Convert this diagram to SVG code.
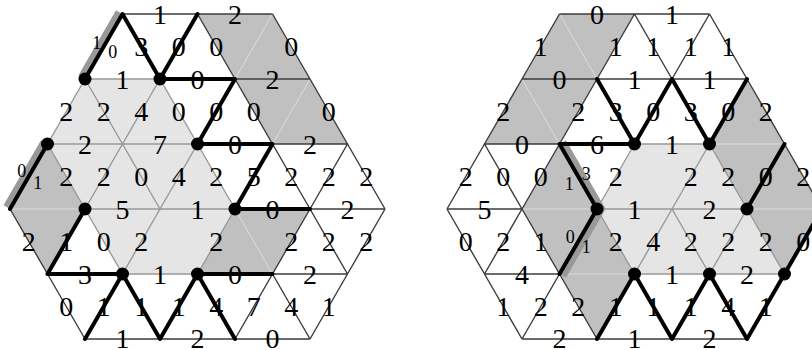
<svg xmlns="http://www.w3.org/2000/svg" width="812" height="350" viewBox="0 0 812 350">
<style>
.fl{fill:#e5e5e5}
.fd{fill:#c0c0c0}
.ld{stroke:#3c3c3c;stroke-width:1.4;fill:none}
.lg{stroke:#999;stroke-width:1.4;fill:none}
.lf{stroke:#dcdcdc;stroke-width:1;fill:none}
.th{stroke:#000;stroke-width:4;stroke-linecap:round;stroke-linejoin:round;fill:none}
.bd{stroke:#999;stroke-width:7;fill:none;stroke-linejoin:round}
.dot{fill:#000}
text{font-family:"Liberation Serif","Times New Roman",serif;font-size:28px;text-anchor:middle;fill:#000}
text.s{font-size:18px}
</style>
<rect width="812" height="350" fill="#fff"/>
<g id="left-hexagon">
  <g id="left-regions">
    <polygon class="fl" points="85,79 160,79 197.5,144 235,209 197.5,274 122.5,274 85,209 47.5,144"/>
    <polygon class="fd" points="197.5,14 272.5,14 310,79 235,79"/>
    <polygon class="fd" points="235,79 310,79 347.5,144 272.5,144"/>
    <polygon class="fd" points="47.5,144 85,209 47.5,274 10,209"/>
    <polygon class="fd" points="235,209 310,209 272.5,274 197.5,274"/>
  </g>
  <g id="left-connectors">
    <path class="lf" d="M272.5,14L235,79M310,79L272.5,144M10,209H85M235,209L272.5,274"/>
    <path class="ld" d="M122.5,14H272.5M197.5,14L235,79M272.5,14L310,79M235,79H310M235,79L272.5,144M310,79L347.5,144M272.5,144H347.5M272.5,144L310,209M347.5,144L310,209M347.5,144L385,209M310,209H385M10,209L47.5,274M310,209L272.5,274M310,209L347.5,274M385,209L347.5,274M272.5,274H347.5M47.5,274L85,339M272.5,274L235,339M272.5,274L310,339M347.5,274L310,339M85,339H310"/>
    <path class="lg" d="M85,79H160M85,79L47.5,144M85,79L122.5,144M160,79L122.5,144M160,79L197.5,144M47.5,144H197.5M47.5,144L85,209M122.5,144L85,209M122.5,144L160,209M197.5,144L160,209M197.5,144L235,209M85,209H235M85,209L122.5,274M160,209L122.5,274M235,209L197.5,274M122.5,274H197.5"/>
    <path class="bd" d="M119,12L81.5,77M44,142L6.5,207"/>
    <path class="th" d="M85,79L122.5,14L160,79L197.5,14M160,79H235L197.5,144H272.5L235,209H310M47.5,144L10,209M85,209L47.5,274H122.5M85,339L122.5,274L160,339L197.5,274L235,339M197.5,274H272.5"/>
  </g>
  <g id="left-dots">
    <circle class="dot" cx="85" cy="79" r="6.5"/>
    <circle class="dot" cx="160" cy="79" r="6.5"/>
    <circle class="dot" cx="47.5" cy="144" r="6.5"/>
    <circle class="dot" cx="197.5" cy="144" r="6.5"/>
    <circle class="dot" cx="85" cy="209" r="6.5"/>
    <circle class="dot" cx="235" cy="209" r="6.5"/>
    <circle class="dot" cx="122.5" cy="274" r="6.5"/>
    <circle class="dot" cx="197.5" cy="274" r="6.5"/>
  </g>
  <g id="left-labels">
    <text x="160" y="23.5">1</text><text x="235" y="23.5">2</text>
    <text class="s" x="96.75" y="48.5">1</text><text class="s" x="112.75" y="57.5">0</text>
    <text x="141.25" y="56">3</text><text x="178.75" y="56">0</text><text x="216.25" y="56">0</text><text x="291.25" y="56">0</text>
    <text x="122.5" y="88.5">1</text><text x="197.5" y="88.5">0</text><text x="272.5" y="88.5">2</text>
    <text x="66.25" y="121">2</text><text x="103.75" y="121">2</text><text x="141.25" y="121">4</text><text x="178.75" y="121">0</text><text x="216.25" y="121">0</text><text x="253.75" y="121">0</text><text x="328.75" y="121">0</text>
    <text x="85" y="153.5">2</text><text x="160" y="153.5">7</text><text x="235" y="153.5">0</text><text x="310" y="153.5">2</text>
    <text class="s" x="21.75" y="177">0</text><text class="s" x="37.75" y="189">1</text>
    <text x="66.25" y="186">2</text><text x="103.75" y="186">2</text><text x="141.25" y="186">0</text><text x="178.75" y="186">4</text><text x="216.25" y="186">2</text><text x="253.75" y="186">5</text><text x="291.25" y="186">2</text><text x="328.75" y="186">2</text><text x="366.25" y="186">2</text>
    <text x="122.5" y="218.5">5</text><text x="197.5" y="218.5">1</text><text x="272.5" y="218.5">0</text><text x="347.5" y="218.5">2</text>
    <text x="28.75" y="251">2</text><text x="66.25" y="251">1</text><text x="103.75" y="251">0</text><text x="141.25" y="251">2</text><text x="216.25" y="251">2</text><text x="291.25" y="251">2</text><text x="328.75" y="251">2</text><text x="366.25" y="251">2</text>
    <text x="85" y="283.5">3</text><text x="160" y="283.5">1</text><text x="235" y="283.5">0</text><text x="310" y="283.5">2</text>
    <text x="66.25" y="316">0</text><text x="103.75" y="316">1</text><text x="141.25" y="316">1</text><text x="178.75" y="316">1</text><text x="216.25" y="316">4</text><text x="253.75" y="316">7</text><text x="291.25" y="316">4</text><text x="328.75" y="316">1</text>
    <text x="122.5" y="348">1</text><text x="197.5" y="348">2</text><text x="272.5" y="348">0</text>
  </g>
</g>
<g id="right-hexagon" transform="translate(437,0)">
  <g id="right-regions">
    <polygon class="fl" points="197.5,144 272.5,144 310,209 347.5,274 197.5,274 160,209"/>
    <polygon class="fd" points="122.5,14 197.5,14 160,79 85,79"/>
    <polygon class="fd" points="85,79 160,79 122.5,144 47.5,144"/>
    <polygon class="fd" points="122.5,144 160,209 122.5,274 85,209"/>
    <polygon class="fd" points="160,209 197.5,274 160,339 122.5,274"/>
    <polygon class="fd" points="310,79 347.5,144 310,209 272.5,144"/>
    <polygon class="fd" points="347.5,144 385,209 347.5,274 310,209"/>
  </g>
  <g id="right-connectors">
    <path class="lf" d="M122.5,14L160,79M85,79L122.5,144M85,209H160M122.5,274H197.5M272.5,144H347.5M310,209H385"/>
    <path class="ld" d="M122.5,14H272.5M122.5,14L85,79M197.5,14L160,79M197.5,14L235,79M272.5,14L235,79M272.5,14L310,79M85,79H310M85,79L47.5,144M160,79L122.5,144M310,79L347.5,144M47.5,144H122.5M47.5,144L10,209M47.5,144L85,209M122.5,144L85,209M347.5,144L385,209M10,209H85M10,209L47.5,274M85,209L47.5,274M85,209L122.5,274M47.5,274H122.5M47.5,274L85,339M122.5,274L85,339M122.5,274L160,339M85,339H310"/>
    <path class="lg" d="M197.5,144H272.5M197.5,144L160,209M272.5,144L235,209M272.5,144L310,209M160,209H310M160,209L197.5,274M235,209L197.5,274M235,209L272.5,274M310,209L272.5,274M310,209L347.5,274M197.5,274H347.5"/>
    <path class="bd" d="M125.96,142L164.62,209L125.96,276"/>
    <path class="th" d="M160,79L197.5,144L235,79L272.5,144L310,79M122.5,144H197.5M122.5,144L160,209L122.5,274M347.5,144L310,209M385,209L347.5,274M160,339L197.5,274L235,339L272.5,274L310,339L347.5,274"/>
  </g>
  <g id="right-dots">
    <circle class="dot" cx="197.5" cy="144" r="6.5"/>
    <circle class="dot" cx="272.5" cy="144" r="6.5"/>
    <circle class="dot" cx="160" cy="209" r="6.5"/>
    <circle class="dot" cx="310" cy="209" r="6.5"/>
    <circle class="dot" cx="197.5" cy="274" r="6.5"/>
    <circle class="dot" cx="272.5" cy="274" r="6.5"/>
    <circle class="dot" cx="347.5" cy="274" r="6.5"/>
  </g>
  <g id="right-labels">
    <text x="160" y="23.5">0</text><text x="235" y="23.5">1</text>
    <text x="103.75" y="56">1</text><text x="178.75" y="56">1</text><text x="216.25" y="56">1</text><text x="253.75" y="56">1</text><text x="291.25" y="56">1</text>
    <text x="122.5" y="88.5">0</text><text x="197.5" y="88.5">1</text><text x="272.5" y="88.5">1</text>
    <text x="66.25" y="121">2</text><text x="141.25" y="121">2</text><text x="178.75" y="121">3</text><text x="216.25" y="121">0</text><text x="253.75" y="121">3</text><text x="291.25" y="121">0</text><text x="328.75" y="121">2</text>
    <text x="85" y="153.5">0</text><text x="160" y="153.5">6</text><text x="235" y="153.5">1</text>
    <text x="28.75" y="186">2</text><text x="66.25" y="186">0</text><text x="103.75" y="186">0</text>
    <text class="s" x="132.25" y="189.5">1</text><text class="s" x="149.25" y="179.5">3</text>
    <text x="178.75" y="186">2</text><text x="253.75" y="186">2</text><text x="291.25" y="186">2</text><text x="328.75" y="186">0</text><text x="366.25" y="186">2</text>
    <text x="47.5" y="218.5">5</text><text x="197.5" y="218.5">1</text><text x="272.5" y="218.5">2</text>
    <text x="28.75" y="251">0</text><text x="66.25" y="251">2</text><text x="103.75" y="251">1</text>
    <text class="s" x="133.25" y="242.5">0</text><text class="s" x="149.25" y="252.5">1</text>
    <text x="178.75" y="251">2</text><text x="216.25" y="251">4</text><text x="253.75" y="251">2</text><text x="291.25" y="251">2</text><text x="328.75" y="251">2</text><text x="366.25" y="251">0</text>
    <text x="85" y="283.5">4</text><text x="235" y="283.5">1</text><text x="310" y="283.5">2</text>
    <text x="66.25" y="316">1</text><text x="103.75" y="316">2</text><text x="141.25" y="316">2</text><text x="178.75" y="316">1</text><text x="216.25" y="316">1</text><text x="253.75" y="316">1</text><text x="291.25" y="316">4</text><text x="328.75" y="316">1</text>
    <text x="122.5" y="348">2</text><text x="197.5" y="348">1</text><text x="272.5" y="348">2</text>
  </g>
</g>
</svg>
